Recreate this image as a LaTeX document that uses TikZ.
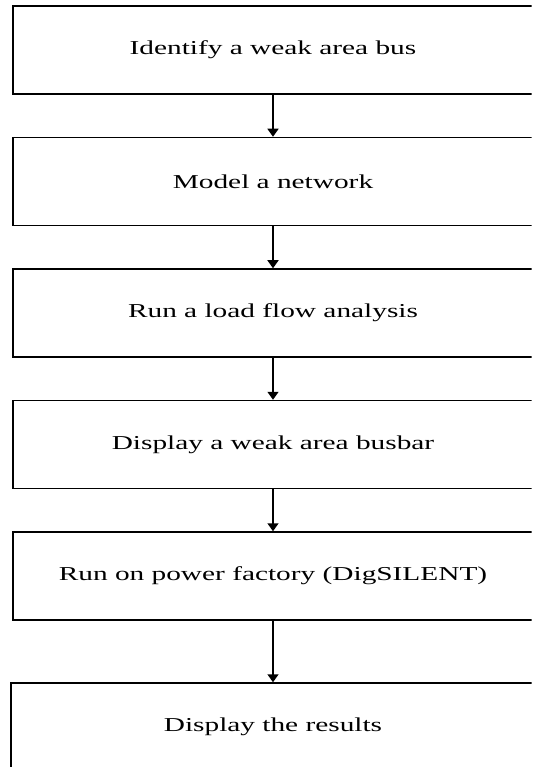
\documentclass[tikz,border=0pt]{standalone}
\usepackage{fontspec}
\setmainfont{Liberation Serif}[FakeStretch=1.49]
\usetikzlibrary{arrows.meta, positioning}

\begin{document}
\begin{tikzpicture} [node distance = 2.63cm , on grid, auto,
    stepbox/.style = {draw, rectangle, line width=0.03cm, minimum width=10.4cm,
        minimum height=1.76cm, font=\fontsize{11.2}{13}\selectfont}]
    \useasboundingbox (0,0) rectangle (10.72,-15.34);
    \clip (0,0) rectangle (10.63,-15.34);

    \node (identify) [stepbox] at (5.46,-1.0) {Identify a weak area bus};
    \node (model) [stepbox, below = of identify] {Model a network};
    \node (loadflow) [stepbox, below = of model] {Run a load flow analysis};
    \node (busbar) [stepbox, below = of loadflow] {Display a weak area busbar};
    \node (factory) [stepbox, below = of busbar] {Run on power factory (DigSILENT)};
    \node (results) [stepbox, below = 3.02cm of factory, minimum width=10.48cm] {Display the results};

    \path [-{Triangle[width=0.22cm, length=0.16cm]}, line width=0.03cm] (identify) edge (model);
    \path [-{Triangle[width=0.22cm, length=0.16cm]}, line width=0.03cm] (model) edge (loadflow);
    \path [-{Triangle[width=0.22cm, length=0.16cm]}, line width=0.03cm] (loadflow) edge (busbar);
    \path [-{Triangle[width=0.22cm, length=0.16cm]}, line width=0.03cm] (busbar) edge (factory);
    \path [-{Triangle[width=0.22cm, length=0.16cm]}, line width=0.03cm] (factory) edge (results);

\end{tikzpicture}
\end{document}
